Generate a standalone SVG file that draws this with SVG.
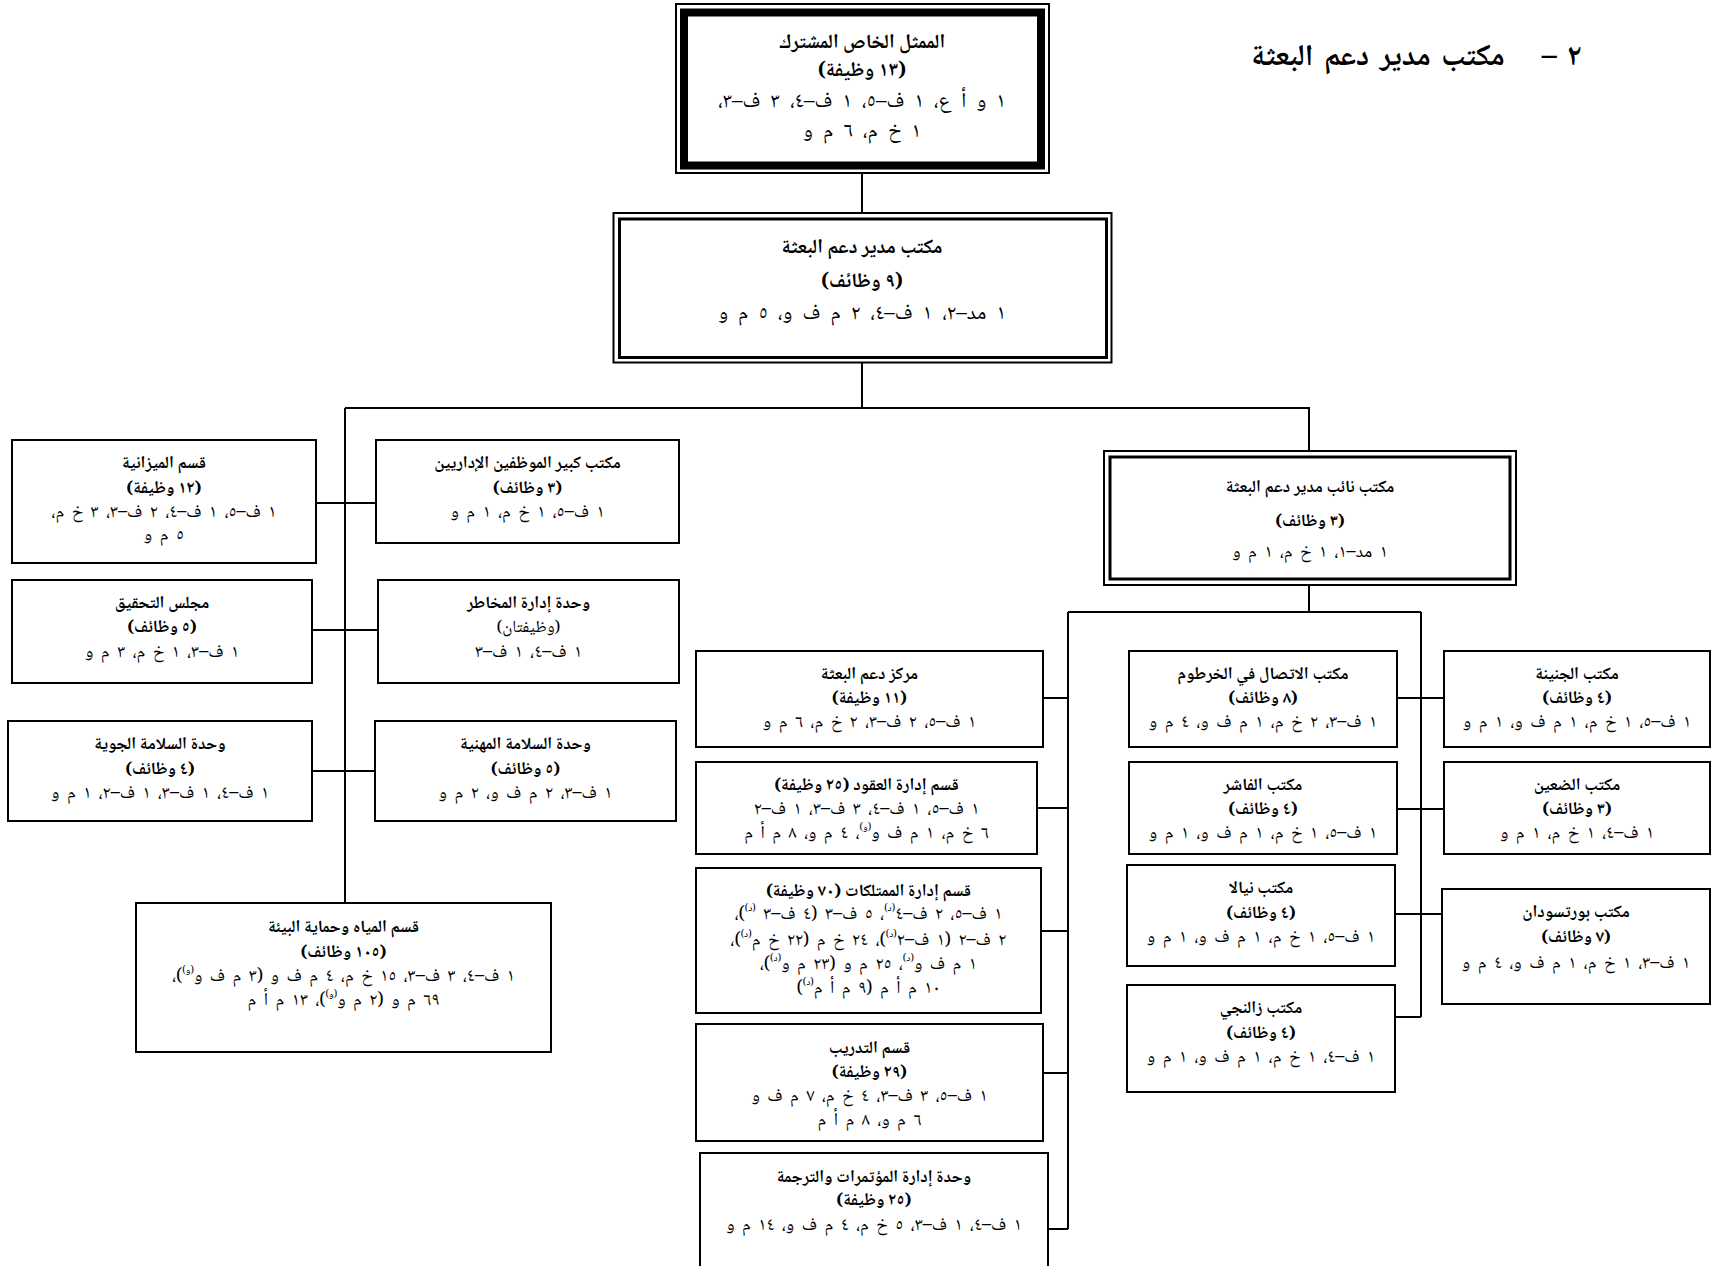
<svg xmlns="http://www.w3.org/2000/svg" width="1715" height="1266" viewBox="0 0 1715 1266">
<style>
.bg{fill:#fff}
.b{fill:#fff;stroke:#000;stroke-width:2}
.thk{fill:none;stroke:#000;stroke-width:8}
.dbl{fill:none;stroke:#000;stroke-width:3}
.c{fill:none;stroke:#000;stroke-width:2}
text{font-family:"Noto Naskh Arabic","Amiri","Noto Sans Arabic","DejaVu Sans",sans-serif;font-size:17px;text-anchor:middle;direction:rtl;fill:#000}
.h{font-weight:bold}
.d{font-size:18px;word-spacing:3.5px}
.L{font-size:20px}
.Ld{font-size:21px;word-spacing:5.5px}
.T{font-size:30px;font-weight:bold;word-spacing:4px}
.s{font-size:10px;baseline-shift:super;word-spacing:0}
</style>
<rect class="bg" x="0" y="0" width="1715" height="1266"/>
<text class="T" x="1378" y="65">مكتب مدير دعم البعثة</text>
<text class="T" x="1562" y="65">٢ –</text>
<g id="connectors">
<path class="c" d="M862,173V213M862,362V408M345,408H1309V451M345,408V903M316,503H376M312,630H378M312,771H375"/>
<path class="c" d="M1309,585V612M1068,612H1421M1068,612V1229M1421,612V1017"/>
<path class="c" d="M1043,698H1068M1037,808H1068M1041,931H1068M1043,1073H1068M1048,1229H1068"/>
<path class="c" d="M1397,698H1444M1397,809H1444M1395,914H1442M1395,1017H1421"/>
</g>
<g id="n-srsg">
<rect class="b" x="676" y="4" width="373" height="169"/>
<rect class="thk" x="684" y="12.5" width="357" height="153"/>
<text class="L h" x="862" y="48">الممثل الخاص المشترك</text>
<text class="L h" x="862" y="76">(١٣ وظيفة)</text>
<text class="Ld" x="862" y="107">١ و أ ع، ١ ف–٥، ١ ف–٤، ٣ ف–٣،</text>
<text class="Ld" x="862" y="137">١ خ م، ٦ م و</text>
</g>
<g id="n-dms">
<rect class="b" x="613.5" y="213" width="498" height="149.5"/>
<rect class="dbl" x="619.5" y="219" width="487" height="138.5"/>
<text class="L h" x="862" y="253">مكتب مدير دعم البعثة</text>
<text class="L h" x="862" y="287">(٩ وظائف)</text>
<text class="Ld" x="862" y="319">١ مد–٢، ١ ف–٤، ٢ م ف و، ٥ م و</text>
</g>
<g id="n-budget">
<rect class="b" x="12" y="440" width="304" height="123"/>
<text class="h" x="164" y="468">قسم الميزانية</text>
<text class="h" x="164" y="493">(١٢ وظيفة)</text>
<text class="d" x="164" y="517">١ ف–٥، ١ ف–٤، ٢ ف–٣، ٣ خ م،</text>
<text class="d" x="164" y="540">٥ م و</text>
</g>
<g id="n-cao">
<rect class="b" x="376" y="440" width="303" height="103"/>
<text class="h" x="527.5" y="468">مكتب كبير الموظفين الإداريين</text>
<text class="h" x="527.5" y="493">(٣ وظائف)</text>
<text class="d" x="527.5" y="517">١ ف–٥، ١ خ م، ١ م و</text>
</g>
<g id="n-board">
<rect class="b" x="12" y="580" width="300" height="103"/>
<text class="h" x="162" y="608">مجلس التحقيق</text>
<text class="h" x="162" y="632">(٥ وظائف)</text>
<text class="d" x="162" y="657">١ ف–٣، ١ خ م، ٣ م و</text>
</g>
<g id="n-risk">
<rect class="b" x="378" y="580" width="301" height="103"/>
<text class="h" x="528.5" y="608">وحدة إدارة المخاطر</text>
<text x="528.5" y="632">(وظيفتان)</text>
<text class="d" x="528.5" y="657">١ ف–٤، ١ ف–٣</text>
</g>
<g id="n-aviation">
<rect class="b" x="8" y="721" width="304" height="100"/>
<text class="h" x="160" y="749">وحدة السلامة الجوية</text>
<text class="h" x="160" y="774">(٤ وظائف)</text>
<text class="d" x="160" y="798">١ ف–٤، ١ ف–٣، ١ ف–٢، ١ م و</text>
</g>
<g id="n-occ">
<rect class="b" x="375" y="721" width="301" height="100"/>
<text class="h" x="525.5" y="749">وحدة السلامة المهنية</text>
<text class="h" x="525.5" y="774">(٥ وظائف)</text>
<text class="d" x="525.5" y="798">١ ف–٣، ٢ م ف و، ٢ م و</text>
</g>
<g id="n-water">
<rect class="b" x="136" y="903" width="415" height="149"/>
<text class="h" x="343.5" y="932">قسم المياه وحماية البيئة</text>
<text class="h" x="343.5" y="957">(١٠٥ وظائف)</text>
<text class="d" x="343.5" y="981">١ ف–٤، ٣ ف–٣، ١٥ خ م، ٤ م ف و (٣ م ف و<tspan class="s">(و)</tspan>)،</text>
<text class="d" x="343.5" y="1005">٦٩ م و (٢ م و<tspan class="s">(و)</tspan>)، ١٣ م أ م</text>
</g>
<g id="n-deputy">
<rect class="b" x="1104" y="451" width="412" height="134"/>
<rect class="dbl" x="1110" y="457" width="400" height="122"/>
<text class="h" x="1310" y="492">مكتب نائب مدير دعم البعثة</text>
<text class="h" x="1310" y="526">(٣ وظائف)</text>
<text class="d" x="1310" y="557">١ مد–١، ١ خ م، ١ م و</text>
</g>
<g id="n-msc">
<rect class="b" x="696" y="651" width="347" height="96"/>
<text class="h" x="869.5" y="679">مركز دعم البعثة</text>
<text class="h" x="869.5" y="703">(١١ وظيفة)</text>
<text class="d" x="869.5" y="727">١ ف–٥، ٢ ف–٣، ٢ خ م، ٦ م و</text>
</g>
<g id="n-contracts">
<rect class="b" x="696" y="762" width="341" height="92"/>
<text class="h" x="866.5" y="790">قسم إدارة العقود (٢٥ وظيفة)</text>
<text class="d" x="866.5" y="814">١ ف–٥، ١ ف–٤، ٣ ف–٣، ١ ف–٢</text>
<text class="d" x="866.5" y="838">٦ خ م، ١ م ف و<tspan class="s">(و)</tspan>، ٤ م و، ٨ م أ م</text>
</g>
<g id="n-property">
<rect class="b" x="696" y="868" width="345" height="145"/>
<text class="h" x="868.5" y="896">قسم إدارة الممتلكات (٧٠ وظيفة)</text>
<text class="d" x="868.5" y="919">١ ف–٥، ٢ ف–٤<tspan class="s">(د)</tspan>، ٥ ف–٣ (٤ ف–٣ <tspan class="s">(د)</tspan>)،</text>
<text class="d" x="868.5" y="945">٢ ف–٢ (١ ف–٢<tspan class="s">(د)</tspan>)، ٢٤ خ م (٢٢ خ م<tspan class="s">(د)</tspan>)،</text>
<text class="d" x="868.5" y="969">١ م ف و<tspan class="s">(د)</tspan>، ٢٥ م و (٢٣ م و<tspan class="s">(د)</tspan>)،</text>
<text class="d" x="868.5" y="993">١٠ م أ م (٩ م أ م<tspan class="s">(د)</tspan>)</text>
</g>
<g id="n-training">
<rect class="b" x="696" y="1024" width="347" height="117"/>
<text class="h" x="869.5" y="1053">قسم التدريب</text>
<text class="h" x="869.5" y="1077">(٢٩ وظيفة)</text>
<text class="d" x="869.5" y="1101">١ ف–٥، ٣ ف–٣، ٤ خ م، ٧ م ف و</text>
<text class="d" x="869.5" y="1125">٦ م و، ٨ م أ م</text>
</g>
<g id="n-conf">
<rect class="b" x="700" y="1153" width="348" height="125"/>
<text class="h" x="874" y="1182">وحدة إدارة المؤتمرات والترجمة</text>
<text class="h" x="874" y="1205">(٢٥ وظيفة)</text>
<text class="d" x="874" y="1230">١ ف–٤، ١ ف–٣، ٥ خ م، ٤ م ف و، ١٤ م و</text>
</g>
<g id="n-khartoum">
<rect class="b" x="1129" y="651" width="268" height="96"/>
<text class="h" x="1263" y="679">مكتب الاتصال في الخرطوم</text>
<text class="h" x="1263" y="703">(٨ وظائف)</text>
<text class="d" x="1263" y="727">١ ف–٣، ٢ خ م، ١ م ف و، ٤ م و</text>
</g>
<g id="n-fasher">
<rect class="b" x="1129" y="762" width="268" height="92"/>
<text class="h" x="1263" y="790">مكتب الفاشر</text>
<text class="h" x="1263" y="814">(٤ وظائف)</text>
<text class="d" x="1263" y="838">١ ف–٥، ١ خ م، ١ م ف و، ١ م و</text>
</g>
<g id="n-nyala">
<rect class="b" x="1127" y="865" width="268" height="101"/>
<text class="h" x="1261" y="893">مكتب نيالا</text>
<text class="h" x="1261" y="918">(٤ وظائف)</text>
<text class="d" x="1261" y="942">١ ف–٥، ١ خ م، ١ م ف و، ١ م و</text>
</g>
<g id="n-zalingei">
<rect class="b" x="1127" y="985" width="268" height="107"/>
<text class="h" x="1261" y="1013">مكتب زالنجي</text>
<text class="h" x="1261" y="1038">(٤ وظائف)</text>
<text class="d" x="1261" y="1062">١ ف–٤، ١ خ م، ١ م ف و، ١ م و</text>
</g>
<g id="n-geneina">
<rect class="b" x="1444" y="651" width="266" height="96"/>
<text class="h" x="1577" y="679">مكتب الجنينة</text>
<text class="h" x="1577" y="703">(٤ وظائف)</text>
<text class="d" x="1577" y="727">١ ف–٥، ١ خ م، ١ م ف و، ١ م و</text>
</g>
<g id="n-daein">
<rect class="b" x="1444" y="762" width="266" height="92"/>
<text class="h" x="1577" y="790">مكتب الضعين</text>
<text class="h" x="1577" y="814">(٣ وظائف)</text>
<text class="d" x="1577" y="838">١ ف–٤، ١ خ م، ١ م و</text>
</g>
<g id="n-portsudan">
<rect class="b" x="1442" y="889" width="268" height="115"/>
<text class="h" x="1576" y="917">مكتب بورتسودان</text>
<text class="h" x="1576" y="942">(٧ وظائف)</text>
<text class="d" x="1576" y="968">١ ف–٣، ١ خ م، ١ م ف و، ٤ م و</text>
</g>
</svg>
